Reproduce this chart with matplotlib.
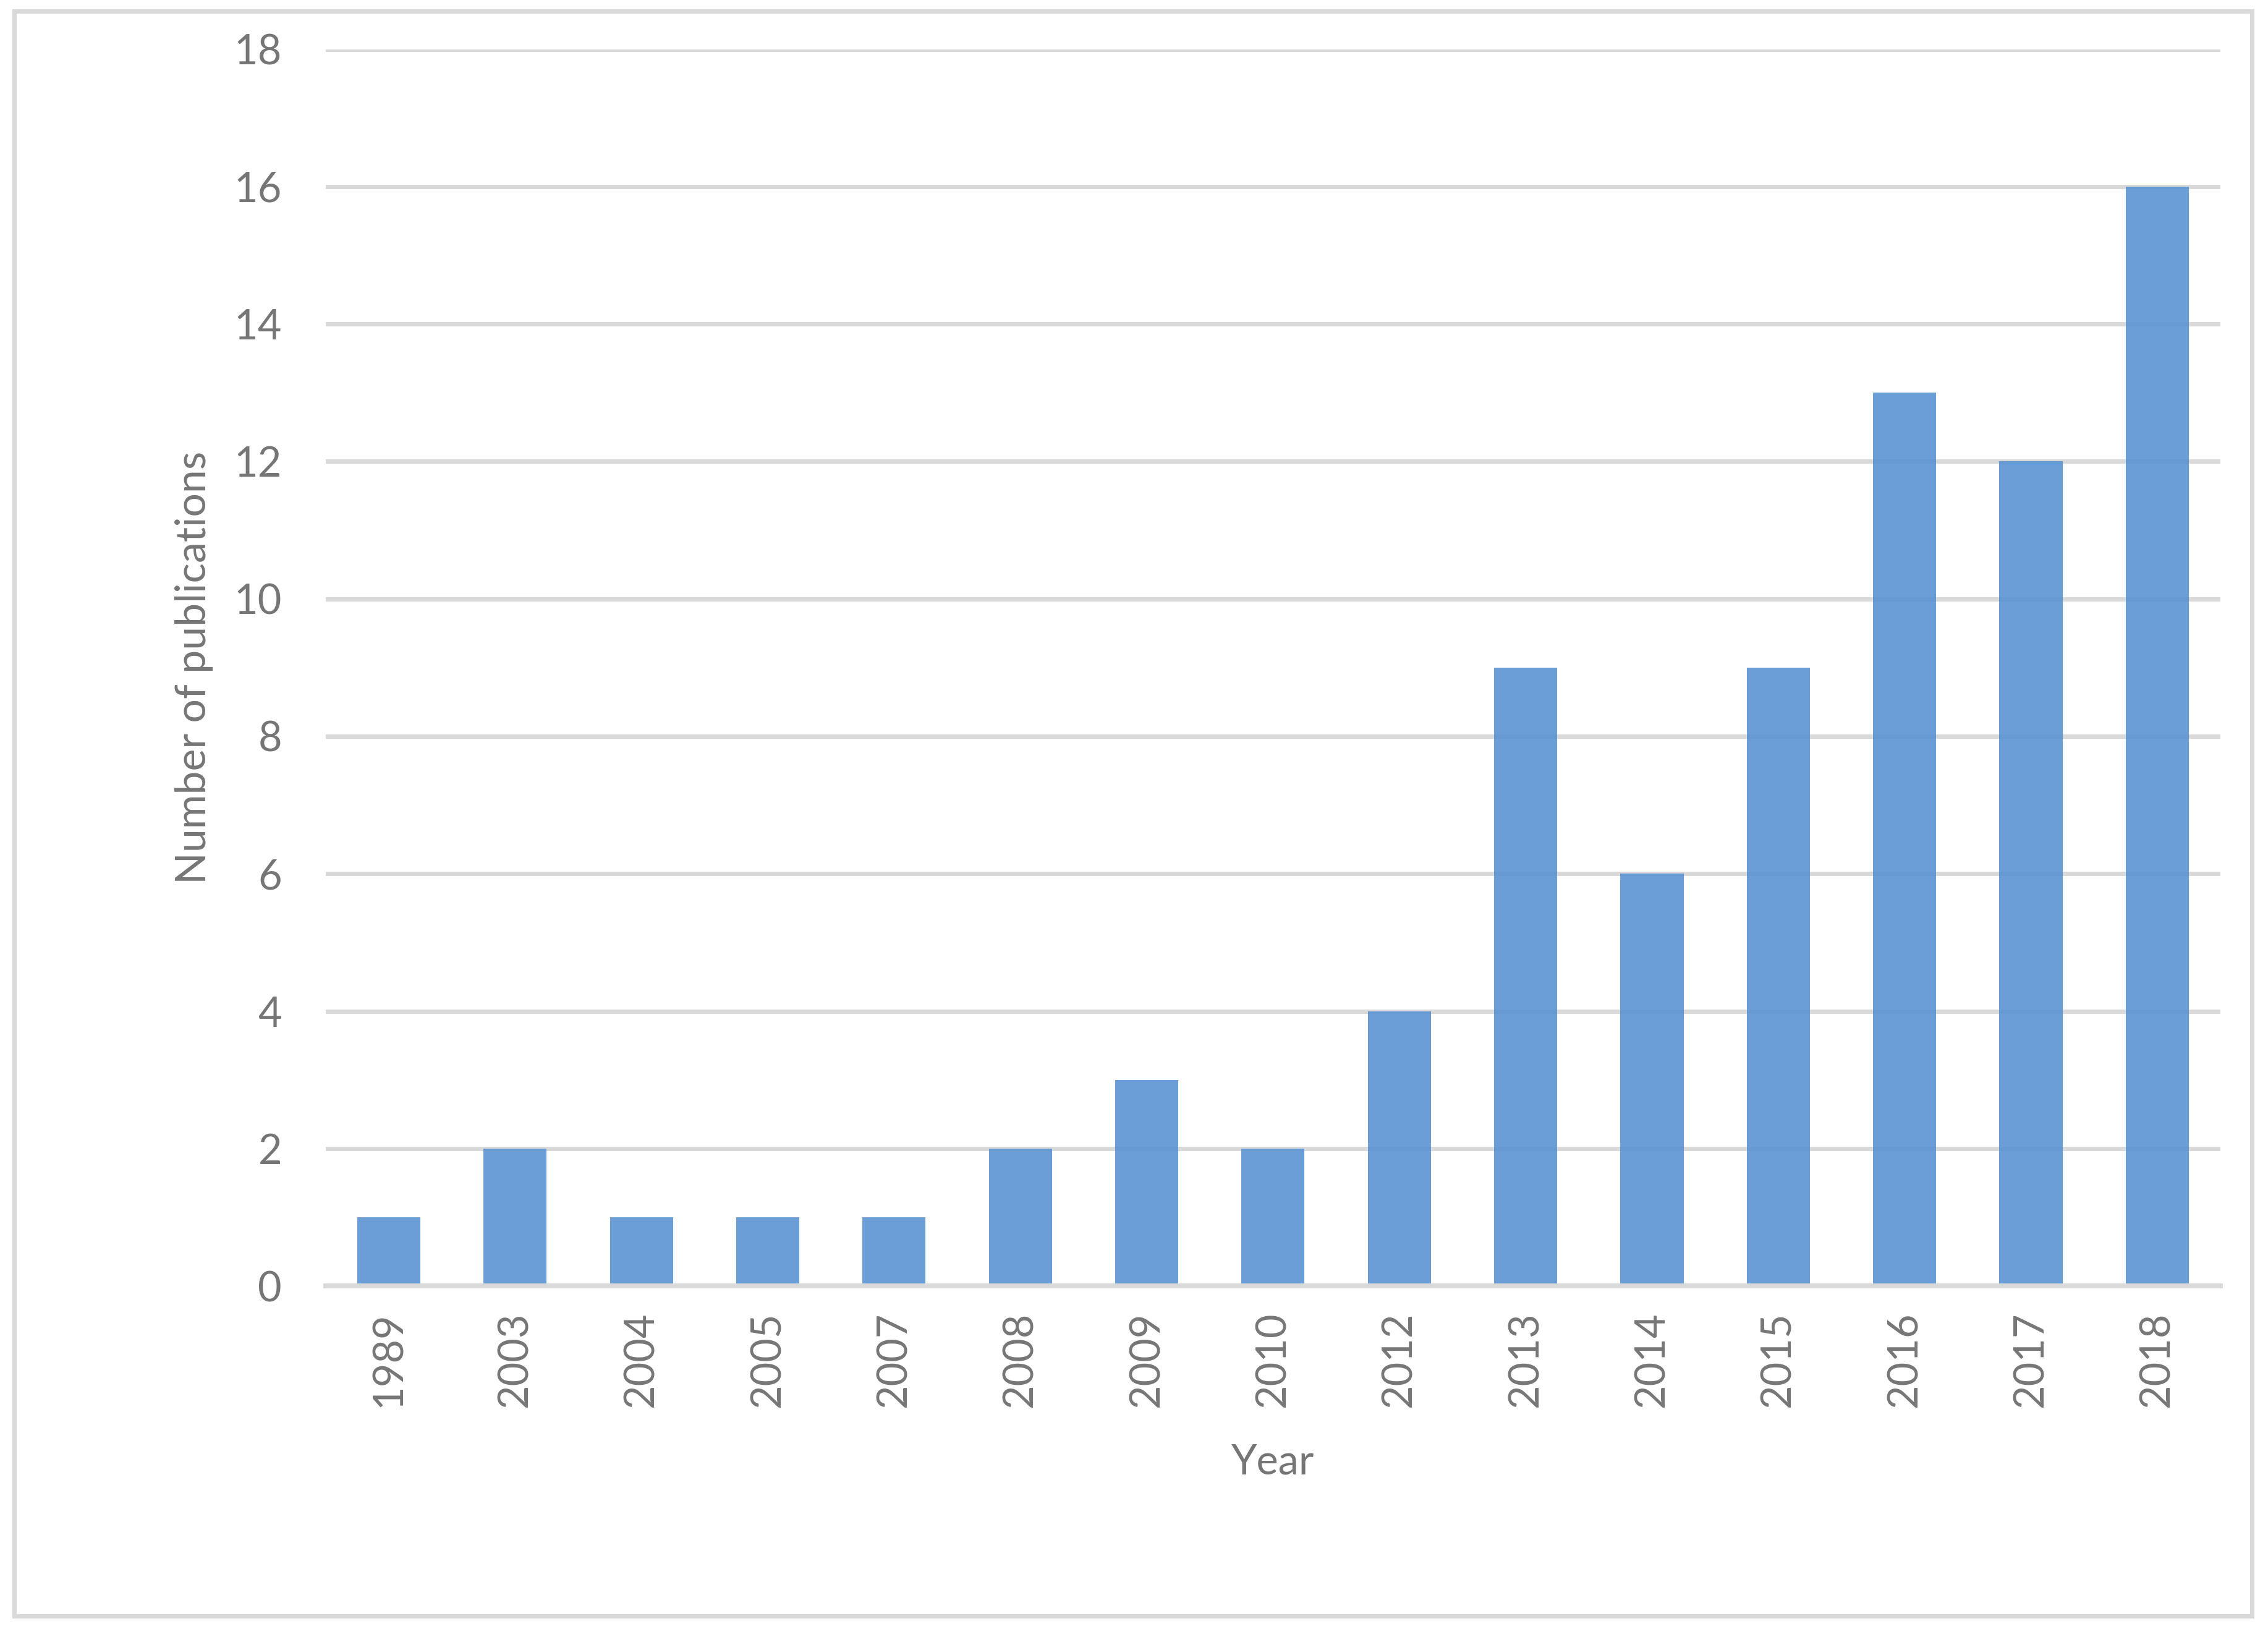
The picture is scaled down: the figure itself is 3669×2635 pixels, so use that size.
"""Bar chart of publications per year."""

import matplotlib
matplotlib.use("Agg")
import matplotlib.pyplot as plt
from matplotlib.patches import Rectangle

years = ["1989", "2003", "2004", "2005", "2007", "2008", "2009", "2010",
         "2012", "2013", "2014", "2015", "2016", "2017", "2018"]
publications = [1, 2, 1, 1, 1, 2, 3, 2, 4, 9, 6, 9, 13, 12, 16]
y_ticks = [0, 2, 4, 6, 8, 10, 12, 14, 16, 18]

text_grey = "#767676"
grid_grey = "#D9D9D9"
bar_blue = "#5B93D2"

plt.rcParams["font.family"] = ["Lato", "DejaVu Sans"]

fig = plt.figure(figsize=(3669 / 300, 2635 / 300), dpi=300)
ax = fig.add_axes([0.1436, 0.2106, 0.979 - 0.1436, 0.9698 - 0.2106])

x = range(len(years))
ax.bar(x, publications, width=0.5, color=bar_blue, alpha=0.9, zorder=3)

ax.set_xlim(-0.5, len(years) - 0.5)
ax.set_ylim(0, 18)
ax.set_yticks(y_ticks)
ax.set_xticks(list(x))
ax.set_xticklabels(years, rotation=90)

ax.yaxis.grid(True, color=grid_grey, lw=1.7, zorder=0)
ax.set_axisbelow(True)
for side in ["top", "right", "left"]:
    ax.spines[side].set_visible(False)
ax.spines["bottom"].set_color(grid_grey)
ax.spines["bottom"].set_linewidth(1.9)
ax.spines["bottom"].set_zorder(4)

ax.tick_params(axis="both", length=0, labelsize=16, labelcolor=text_grey)
ax.tick_params(axis="y", pad=17)
ax.tick_params(axis="x", pad=10)

ax.set_xlabel("Year", fontsize=16, color=text_grey, labelpad=14)
ax.set_ylabel("Number of publications", fontsize=16.3, color=text_grey, labelpad=8)

# outer chart frame
frame = Rectangle((0.0064, 0.008), 0.993 - 0.0064, 0.993 - 0.008,
                  transform=fig.transFigure, fill=False,
                  edgecolor=grid_grey, lw=1.7)
fig.patches.append(frame)

fig.savefig("out.png", dpi=300)
